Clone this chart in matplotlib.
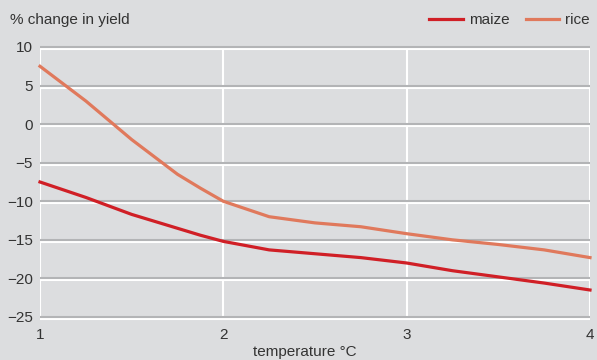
import matplotlib.pyplot as plt
import matplotlib.transforms as mtransforms

plt.rcParams['font.family'] = ['Liberation Sans', 'DejaVu Sans']

TEMP = [1, 1.25, 1.5, 1.75, 1.875, 2, 2.25, 2.5, 2.75, 3, 3.25, 3.5, 3.75, 4]
MAIZE = [-7.5, -9.5, -11.7, -13.5, -14.4, -15.2, -16.3, -16.8, -17.3, -18.0, -19.0, -19.8, -20.6, -21.5]
RICE = [7.5, 3.0, -2.0, -6.5, -8.3, -10.0, -12.0, -12.8, -13.3, -14.2, -15.0, -15.6, -16.3, -17.3]
Y_TICKS = [10, 5, 0, -5, -10, -15, -20, -25]
X_TICKS = [1, 2, 3, 4]

BG = '#dcdddf'
TXT = '#333333'

fig = plt.figure(figsize=(5.97, 3.6), dpi=100, facecolor=BG)
ax = fig.add_axes([40 / 597, 1 - 317 / 360, 550 / 597, 270 / 360])
ax.set_facecolor(BG)
ax.set_xlim(1, 4)
ax.set_ylim(-25, 10)
for s in ax.spines.values():
    s.set_visible(False)

# white vertical grid
for xv in X_TICKS:
    ax.axvline(xv, color='white', lw=1.5, zorder=1)

# horizontal grid: grey line with white line just below
shift = mtransforms.offset_copy(ax.transData, fig=fig, x=0, y=-2, units='dots')
for yv in Y_TICKS:
    ax.plot([1, 4], [yv, yv], color='white', lw=1.5, transform=shift, zorder=1,
            clip_on=False, solid_capstyle='butt')
    ax.plot([1, 4], [yv, yv], color='#b3b4b6', lw=1.5, zorder=2,
            clip_on=False, solid_capstyle='butt')

ax.plot(TEMP, MAIZE, color='#d01f26', lw=2.3, zorder=3, label='maize', clip_on=False)
ax.plot(TEMP, RICE, color='#e0795c', lw=2.3, zorder=3, label='rice', clip_on=False)

ax.set_xticks(X_TICKS)
ax.set_yticks(Y_TICKS)
ax.set_xticklabels([str(v) for v in X_TICKS])
ax.set_yticklabels([str(v).replace('-', '\u2212') for v in Y_TICKS])
ax.tick_params(length=0, labelsize=11, colors=TXT)
ax.tick_params(axis='x', pad=8)
ax.tick_params(axis='y', pad=5)

fig.text(305 / 597, 1 - 352 / 360, 'temperature °C', ha='center', va='center',
         fontsize=11, color=TXT)
fig.text(10 / 597, 1 - 20 / 360, '% change in yield', ha='left', va='center',
         fontsize=11, color=TXT)

leg = ax.legend(loc='lower right', bbox_to_anchor=(593 / 597, 1 - 30 / 360),
                bbox_transform=fig.transFigure, ncol=2, frameon=False,
                fontsize=11, handlelength=2.2, handletextpad=0.4,
                columnspacing=1.05, borderaxespad=0, borderpad=0.2)
for t in leg.get_texts():
    t.set_color(TXT)

fig.savefig('out.png', dpi=100, facecolor=BG)
